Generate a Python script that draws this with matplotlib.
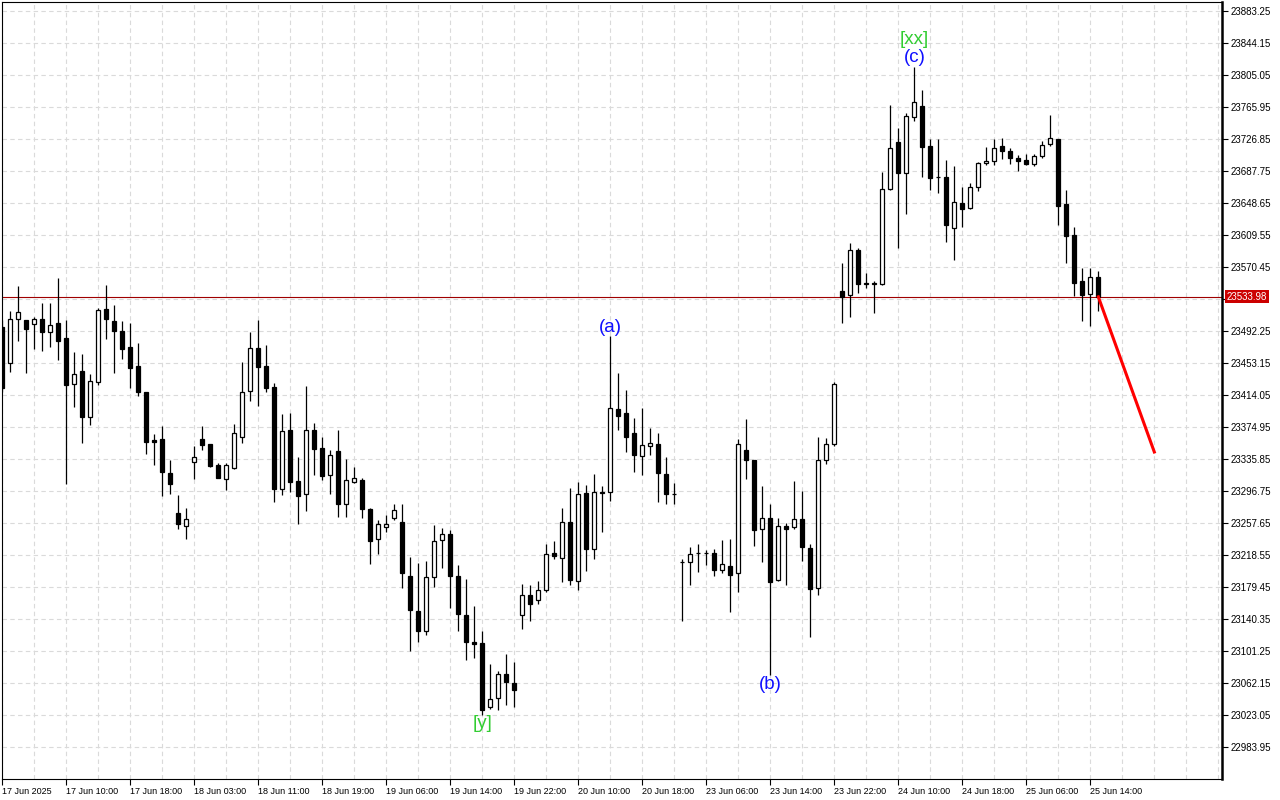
#hourly candles, MT4 look, with wave marks and forecast line

import numpy as np
import matplotlib
matplotlib.use("Agg")
from matplotlib import pyplot as plt

opens = [23497.1, 23452.8, 23506.5, 23505.3, 23500.4, 23506.5, 23490.7, 23502.0, 23483.3, 23427.1,
         23443.0, 23386.8, 23429.6, 23518.8, 23504.1, 23491.9, 23472.3, 23449.1, 23417.4, 23359.1,
         23359.9, 23318.4, 23269.5, 23254.4, 23331.8, 23359.9, 23353.8, 23328.2, 23311.0, 23324.5,
         23362.4, 23418.6, 23471.1, 23449.1, 23423.5, 23299.6, 23371.3, 23308.6, 23292.7, 23370.9,
         23349.3, 23315.9, 23345.3, 23280.5, 23307.4, 23309.8, 23274.8, 23237.7, 23252.4, 23263.4,
         23258.5, 23192.9, 23149.8, 23126.1, 23191.3, 23236.5, 23243.8, 23192.5, 23144.9, 23112.2,
         23110.7, 23032.5, 23043.5, 23072.8, 23061.8, 23144.9, 23169.3, 23163.2, 23175.4, 23220.6,
         23214.5, 23258.5, 23186.4, 23293.9, 23225.5, 23295.2, 23295.2, 23396.6, 23391.7, 23367.3,
         23339.2, 23351.4, 23353.8, 23317.2, 23293.0, 23210.6, 23209.6, 23220.8, 23221.2, 23220.6,
         23199.9, 23204.7, 23196.2, 23346.5, 23334.6, 23250.0, 23263.4, 23188.4, 23253.6, 23252.4,
         23262.2, 23226.7, 23177.9, 23334.3, 23353.8, 23540.8, 23535.9, 23590.9, 23550.3, 23549.8,
         23549.3, 23665.4, 23722.8, 23684.9, 23753.4, 23766.8, 23717.9, 23680.3, 23680.1, 23617.7,
         23648.3, 23642.2, 23667.8, 23697.2, 23699.6, 23717.9, 23711.8, 23703.3, 23700.8, 23695.9,
         23705.7, 23720.4, 23726.5, 23647.1, 23609.2, 23553.0, 23537.8, 23557.9]

highs = [23505.7, 23516.7, 23547.2, 23506.0, 23509.7, 23526.5, 23526.5, 23557.0, 23505.3, 23466.2,
         23463.8, 23439.3, 23520.0, 23548.5, 23523.7, 23504.1, 23501.7, 23477.2, 23418.0, 23366.4,
         23376.2, 23334.3, 23291.9, 23275.6, 23351.7, 23375.8, 23354.3, 23331.3, 23331.3, 23378.3,
         23454.0, 23491.0, 23505.7, 23475.1, 23428.4, 23390.5, 23391.7, 23338.3, 23424.7, 23379.5,
         23362.7, 23346.8, 23371.3, 23335.9, 23326.1, 23312.3, 23275.6, 23261.3, 23267.1, 23280.5,
         23280.5, 23216.1, 23208.4, 23210.9, 23254.8, 23251.2, 23248.7, 23206.0, 23188.9, 23155.9,
         23125.3, 23085.0, 23076.4, 23097.2, 23087.4, 23182.8, 23181.5, 23186.4, 23231.6, 23235.3,
         23275.6, 23300.1, 23307.4, 23303.7, 23317.2, 23302.5, 23485.8, 23440.6, 23419.8, 23385.6,
         23397.8, 23373.4, 23367.3, 23337.9, 23306.5, 23213.3, 23228.0, 23232.0, 23224.7, 23225.9,
         23236.9, 23238.1, 23359.9, 23384.4, 23335.1, 23302.5, 23280.5, 23264.1, 23257.3, 23308.6,
         23296.4, 23231.6, 23362.4, 23361.1, 23429.6, 23575.7, 23600.1, 23593.3, 23563.1, 23553.7,
         23686.5, 23768.4, 23739.9, 23758.3, 23814.8, 23786.4, 23726.5, 23726.5, 23701.2, 23693.5,
         23667.8, 23672.7, 23698.4, 23716.7, 23726.5, 23727.7, 23715.5, 23706.9, 23708.2, 23708.2,
         23724.0, 23756.2, 23727.0, 23664.2, 23619.0, 23568.9, 23568.9, 23565.2]

lows = [23417.7, 23442.5, 23480.4, 23441.3, 23470.6, 23468.2, 23473.1, 23457.2, 23305.7, 23399.8,
        23355.8, 23377.8, 23425.9, 23482.8, 23441.3, 23458.4, 23423.0, 23413.2, 23341.6, 23328.9,
        23291.0, 23293.5, 23250.7, 23238.5, 23311.8, 23346.8, 23326.4, 23312.5, 23298.0, 23324.0,
        23355.8, 23407.1, 23401.0, 23418.1, 23283.7, 23292.2, 23295.9, 23256.8, 23272.7, 23316.7,
        23310.6, 23293.5, 23264.6, 23264.4, 23306.9, 23264.1, 23207.9, 23220.1, 23246.3, 23261.0,
        23178.6, 23101.6, 23112.6, 23121.2, 23179.8, 23203.0, 23154.2, 23126.1, 23089.9, 23093.1,
        23023.4, 23030.0, 23028.8, 23035.6, 23033.2, 23128.7, 23138.5, 23158.3, 23173.0, 23213.3,
        23185.9, 23181.5, 23175.4, 23198.6, 23213.3, 23246.3, 23284.2, 23370.9, 23344.0, 23319.6,
        23315.9, 23340.4, 23282.9, 23280.5, 23280.3, 23137.3, 23181.3, 23198.1, 23206.7, 23192.5,
        23196.2, 23148.5, 23173.0, 23311.0, 23229.2, 23210.4, 23071.9, 23187.2, 23182.3, 23250.0,
        23211.6, 23118.0, 23170.0, 23329.4, 23352.1, 23502.4, 23509.7, 23539.1, 23545.2, 23514.6,
        23548.8, 23664.2, 23594.0, 23634.8, 23748.5, 23680.1, 23664.2, 23660.5, 23601.4, 23578.6,
        23619.7, 23641.0, 23662.9, 23694.7, 23694.7, 23703.0, 23695.9, 23688.1, 23695.6, 23693.5,
        23703.3, 23717.9, 23622.1, 23575.7, 23535.4, 23504.8, 23498.7, 23517.1]

closes = [23422.6, 23506.5, 23515.1, 23495.1, 23506.5, 23490.7, 23499.2, 23479.7, 23426.6, 23439.3,
          23386.8, 23430.8, 23517.5, 23506.5, 23491.9, 23470.6, 23447.4, 23418.1, 23357.0, 23357.0,
          23320.3, 23305.7, 23256.1, 23262.2, 23338.9, 23353.3, 23327.7, 23313.0, 23328.2, 23367.3,
          23417.4, 23471.1, 23448.6, 23423.0, 23299.6, 23369.7, 23308.1, 23291.0, 23370.9, 23348.4,
          23315.4, 23340.4, 23281.2, 23309.8, 23312.3, 23275.1, 23236.0, 23256.1, 23256.1, 23273.5,
          23196.9, 23151.7, 23126.1, 23191.3, 23235.3, 23243.8, 23192.5, 23146.1, 23111.9, 23109.4,
          23029.5, 23042.2, 23072.8, 23063.7, 23053.2, 23169.3, 23158.3, 23175.4, 23219.4, 23217.0,
          23258.5, 23187.6, 23292.7, 23225.5, 23295.2, 23294.0, 23397.8, 23388.0, 23362.4, 23340.4,
          23352.6, 23355.0, 23318.4, 23292.7, 23292.5, 23210.1, 23219.8, 23220.4, 23220.8, 23199.9,
          23207.6, 23193.7, 23353.8, 23334.3, 23248.7, 23263.4, 23185.2, 23253.6, 23250.0, 23262.2,
          23228.0, 23176.6, 23334.3, 23353.8, 23427.1, 23533.8, 23590.9, 23550.0, 23549.8, 23550.3,
          23665.4, 23715.5, 23684.9, 23754.6, 23771.7, 23716.7, 23678.8, 23679.9, 23621.4, 23649.5,
          23641.0, 23667.8, 23697.2, 23699.6, 23715.5, 23711.8, 23703.3, 23699.6, 23695.9, 23705.7,
          23719.2, 23727.7, 23645.4, 23608.7, 23551.3, 23536.6, 23557.9, 23533.98]

price_now = 23533.98

time_labels = ["17 Jun 2025", "17 Jun 10:00", "17 Jun 18:00", "18 Jun 03:00", "18 Jun 11:00",
               "18 Jun 19:00", "19 Jun 06:00", "19 Jun 14:00", "19 Jun 22:00", "20 Jun 10:00",
               "20 Jun 18:00", "23 Jun 06:00", "23 Jun 14:00", "23 Jun 22:00", "24 Jun 10:00",
               "24 Jun 18:00", "25 Jun 06:00", "25 Jun 14:00"]

price_ticks = [22983.95, 23023.05, 23062.15, 23101.25, 23140.35, 23179.45, 23218.55, 23257.65,
               23296.75, 23335.85, 23374.95, 23414.05, 23453.15, 23492.25, 23531.35, 23570.45,
               23609.55, 23648.65, 23687.75, 23726.85, 23765.95, 23805.05, 23844.15, 23883.25]

wave_text = ["[xx]", "(c)", "(a)", "(b)", "[y]"]
wave_bar = [114, 114, 76, 96, 60]
wave_side = ["high", "high", "high", "low", "low"]
wave_color = ["#32cd32", "#1010ff", "#1010ff", "#1010ff", "#32cd32"]

forecast_bar = [137, 144]
forecast_price = [23533.98, 23344.4]

plt.rcParams['font.family'] = ['Liberation Sans', 'DejaVu Sans']

fig = plt.figure(figsize=(12.8, 8), dpi=100)
ax = fig.add_axes([2 / 1280, 21 / 800, 1220 / 1280, 777 / 800])

x = np.arange(len(opens))
o = np.array(opens)
c = np.array(closes)
up = c >= o

# wicks then bodies
ax.vlines(x, lows, highs, color='black', lw=0.9, zorder=3)
body_bottom = np.minimum(o, c)
body_h = np.maximum(np.abs(c - o), 0.2)
body_col = ['white' if u else 'black' for u in up]
ax.bar(x, body_h, bottom=body_bottom, width=0.5, color=body_col,
       edgecolor='black', linewidth=0.9, zorder=4)

# current price line + tag
ax.axhline(price_now, color='#a00000', lw=0.8, zorder=2)
ax.annotate(f"{price_now:.2f}", xy=(1, price_now), xycoords=ax.get_yaxis_transform(),
            xytext=(3.5, 0), textcoords='offset points', ha='left', va='center',
            fontsize=7, color='white', annotation_clip=False,
            bbox=dict(boxstyle='square,pad=0.15', fc='#cc0000', ec='none'))

# forecast
ax.plot(forecast_bar, forecast_price, color='red', lw=2.2, zorder=5)

# wave labels
stack = {}
for t, b, side, col in zip(wave_text, wave_bar, wave_side, wave_color):
    key = (b, side)
    lvl = stack.get(key, 0)
    stack[key] = lvl + 1
for t, b, side, col in zip(wave_text, wave_bar, wave_side, wave_color):
    key = (b, side)
    stack[key] -= 1
    lvl = stack[key]
    if side == "high":
        ax.annotate(t, xy=(b, highs[b]), xytext=(0, 0.5 + 13 * lvl), textcoords='offset points',
                    ha='center', va='bottom', fontsize=13.5, color=col, zorder=6)
    else:
        ax.annotate(t, xy=(b, lows[b]), xytext=(0, -0.5 - 13 * lvl), textcoords='offset points',
                    ha='center', va='top', fontsize=13.5, color=col, zorder=6)

# axes
ax.set_xlim(-0.04, 152.46)
ax.set_ylim(22944.85, 23894.25)

ax.set_xticks(np.arange(len(time_labels)) * 8)
ax.set_xticklabels(time_labels)
ax.set_xticks(np.arange(0, 153, 4), minor=True)
for lbl in ax.get_xticklabels():
    lbl.set_ha('left')
ax.tick_params(axis='x', which='major', direction='out', length=4, width=0.8,
               labelsize=6.5, pad=2)
ax.tick_params(axis='x', which='minor', length=0)

ax.yaxis.tick_right()
ax.set_yticks(price_ticks)
ax.set_yticklabels(["" if abs(p - price_now) < 10 else f"{p:.2f}" for p in price_ticks])
ax.tick_params(axis='y', direction='out', length=4, width=0.8, labelsize=7, pad=2)

ax.grid(axis='x', which='both', color='#dadada', lw=0.8, linestyle=(0, (4, 3)), zorder=0)
ax.grid(axis='y', which='major', color='#dadada', lw=0.8, linestyle=(0, (4, 3)), zorder=0)
ax.set_axisbelow(True)

for s in ax.spines.values():
    s.set_color('black')
    s.set_linewidth(0.8)
ax.spines['right'].set_linewidth(1.8)

fig.savefig('out.png', dpi=100)
